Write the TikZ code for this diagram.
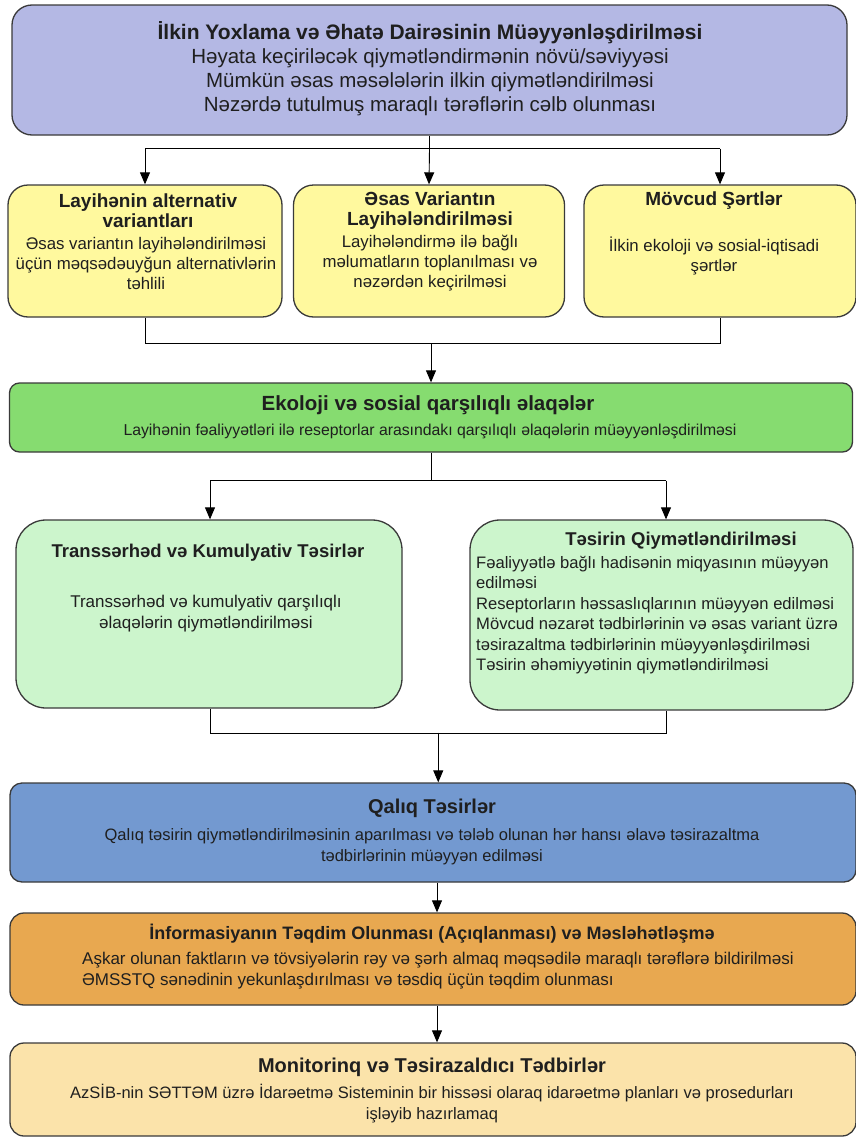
\documentclass[tikz,border=0pt]{standalone}
\usepackage{fontspec}
\setmainfont{Liberation Sans}
\usetikzlibrary{arrows.meta,calc}

\definecolor{lavender}{HTML}{B4B8E4}
\definecolor{paleyellow}{HTML}{FFF99E}
\definecolor{brightgreen}{HTML}{86DC70}
\definecolor{mintgreen}{HTML}{CCF5CC}
\definecolor{steelblue}{HTML}{7399D0}
\definecolor{amber}{HTML}{E8A850}
\definecolor{sand}{HTML}{FBE3AA}
\definecolor{edge}{HTML}{3A3A3A}

\tikzset{
  box/.style={draw=edge, line width=1.3pt, inner sep=0pt, shape=rectangle},
  txt/.style={inner sep=0pt, align=center, text=black!88},
  link/.style={draw=black, line width=0.9pt},
  arr/.style={link, -{Triangle[width=10pt,length=12pt]}},
}
\newcommand{\fsz}[2]{\fontsize{#1}{#2}\selectfont}

\begin{document}
\begin{tikzpicture}[x=1pt,y=-1pt]
\useasboundingbox (0,0) rectangle (856,1143);

% ---------- boxes ----------
\node[box, fill=lavender, rounded corners=20pt, minimum width=835pt, minimum height=130pt] (scope) at (429.5,70) {};
\node[box, fill=paleyellow, rounded corners=20pt, minimum width=274pt, minimum height=132pt] (alt) at (145,251) {};
\node[box, fill=paleyellow, rounded corners=20pt, minimum width=271pt, minimum height=132pt] (base) at (429,251) {};
\node[box, fill=paleyellow, rounded corners=20pt, minimum width=272pt, minimum height=132pt] (cond) at (720,251) {};
\node[box, fill=brightgreen, rounded corners=10pt, minimum width=843pt, minimum height=69pt] (inter) at (431,417.5) {};
\node[box, fill=mintgreen, rounded corners=30pt, minimum width=386pt, minimum height=188pt] (trans) at (209,614) {};
\node[box, fill=mintgreen, rounded corners=30pt, minimum width=383pt, minimum height=190pt] (assess) at (661.5,615) {};
\node[box, fill=steelblue, rounded corners=12pt, minimum width=846pt, minimum height=99pt] (resid) at (433,832.5) {};
\node[box, fill=amber, rounded corners=14pt, minimum width=846pt, minimum height=92pt] (disc) at (433,959) {};
\node[box, fill=sand, rounded corners=14pt, minimum width=846pt, minimum height=93pt] (monit) at (433,1089.5) {};

% ---------- texts ----------
\node[txt, font=\fsz{21}{24}\bfseries] (t1) at (430,33) {İlkin Yoxlama və Əhatə Dairəsinin Müəyyənləşdirilməsi};
\node[txt, font=\fsz{20.5}{24}] (b1) at (430,82) {Həyata keçiriləcək qiymətləndirmənin növü/səviyyəsi\\
Mümkün əsas məsələlərin ilkin qiymətləndirilməsi\\
Nəzərdə tutulmuş maraqlı tərəflərin cəlb olunması};

\node[txt, font=\fsz{19}{20}\bfseries] (t2) at (148,211) {Layihənin alternativ\\variantları};
\node[txt, font=\fsz{16.8}{20}] (b2) at (146,263) {Əsas variantın layihələndirilməsi\\
üçün məqsədəuyğun alternativlərin\\təhlili};

\node[txt, font=\fsz{19}{20}\bfseries] (t3) at (430,211) {Əsas Variantın\\Layihələndirilməsi};
\node[txt, font=\fsz{16.8}{20}] (b3) at (430,263) {Layihələndirmə ilə bağlı\\
məlumatların toplanılması və\\nəzərdən keçirilməsi};

\node[txt, font=\fsz{19}{20}\bfseries] (t4) at (714,201) {Mövcud Şərtlər};
\node[txt, font=\fsz{16.8}{20}] (b4) at (714,255.5) {İlkin ekoloji və sosial-iqtisadi\\şərtlər};

\node[txt, font=\fsz{20.5}{20}\bfseries] (t5) at (428,405) {Ekoloji və sosial qarşılıqlı əlaqələr};
\node[txt, font=\fsz{15.8}{20}] (b5) at (430,431) {Layihənin fəaliyyətləri ilə reseptorlar arasındakı qarşılıqlı əlaqələrin müəyyənləşdirilməsi};

\node[txt, font=\fsz{18.5}{20}\bfseries] (t6) at (208,553) {Transsərhəd və Kumulyativ Təsirlər};
\node[txt, font=\fsz{17}{21}] (b6) at (206,613.5) {Transsərhəd və kumulyativ qarşılıqlı\\əlaqələrin qiymətləndirilməsi};

\node[txt, font=\fsz{18.5}{20}\bfseries] (t7) at (681,541) {Təsirin Qiymətləndirilməsi};
\node[txt, font=\fsz{16.6}{20.4}, align=left, anchor=west] (b7) at (476,615) {Fəaliyyətlə bağlı hadisənin miqyasının müəyyən\\
edilməsi\\
Reseptorların həssaslıqlarının müəyyən edilməsi\\
Mövcud nəzarət tədbirlərinin və əsas variant üzrə\\
təsirazaltma tədbirlərinin müəyyənləşdirilməsi\\
Təsirin əhəmiyyətinin qiymətləndirilməsi};

\node[txt, font=\fsz{20}{20}\bfseries] (t8) at (432,808) {Qalıq Təsirlər};
\node[txt, font=\fsz{16.5}{21}] (b8) at (432,846.5) {Qalıq təsirin qiymətləndirilməsinin aparılması və tələb olunan hər hansı əlavə təsirazaltma\\
tədbirlərinin müəyyən edilməsi};

\node[txt, font=\fsz{18}{20}\bfseries] (t9) at (432,934) {İnformasiyanın Təqdim Olunması (Açıqlanması) və Məsləhətləşmə};
\node[txt, font=\fsz{17}{21}, align=left, anchor=west] (b9) at (82,970.5) {Aşkar olunan faktların və tövsiyələrin rəy və şərh almaq məqsədilə maraqlı tərəflərə bildirilməsi\\
ƏMSSTQ sənədinin yekunlaşdırılması və təsdiq üçün təqdim olunması};

\node[txt, font=\fsz{20}{20}\bfseries] (t10) at (432,1067) {Monitorinq və Təsirazaldıcı Tədbirlər};
\node[txt, font=\fsz{16.5}{21}] (b10) at (432,1103.5) {AzSİB-nin SƏTTƏM üzrə İdarəetmə Sisteminin bir hissəsi olaraq idarəetmə planları və prosedurları\\
işləyib hazırlamaq};

% ---------- connectors ----------
% scope -> three input boxes
\draw[link] (scope.south) -- ++(0,13) coordinate (j1);
\draw[link] (j1 -| alt.north) -- (j1 -| cond.north);
\draw[arr] (j1 -| alt.north) -- (alt.north);
\draw[arr] (j1) -- (base.north);
\draw[arr] (j1 -| cond.north) -- (cond.north);

% side boxes merge -> interactions
\draw[link] (alt.south) -- ++(0,26) coordinate (j2) -- (j2 -| cond.south) -- (cond.south);
\draw[arr] (j2 -| inter.north) -- (inter.north);

% interactions -> two assessment boxes
\draw[link] (inter.south) -- ++(0,28) coordinate (j3);
\draw[link] ($(j3 -| trans.north)+(1,0)$) -- ($(j3 -| assess.north)+(4.5,0)$);
\draw[arr] ($(j3 -| trans.north)+(1,0)$) -- ($(trans.north)+(1,0)$);
\draw[arr] ($(j3 -| assess.north)+(4.5,0)$) -- ($(assess.north)+(4.5,0)$);

% assessment boxes merge -> residual
\draw[link] ($(trans.south)+(1,0)$) |- ($(assess.south)+(4.5,23)$) coordinate (j4) -- ($(assess.south)+(4.5,0)$);
\coordinate (j5) at ($(trans.south)!0.5!(assess.south)+(0,23)$);
\draw[arr] ($(j5)+(3,0)$) -- ($(j5 |- resid.north)+(3,0)$);

% lower chain
\draw[arr] ($(resid.south)+(4,0)$) -- ($(disc.north)+(4,0)$);
\draw[arr] ($(disc.south)+(4,0)$) -- ($(monit.north)+(4,0)$);
\end{tikzpicture}
\end{document}
